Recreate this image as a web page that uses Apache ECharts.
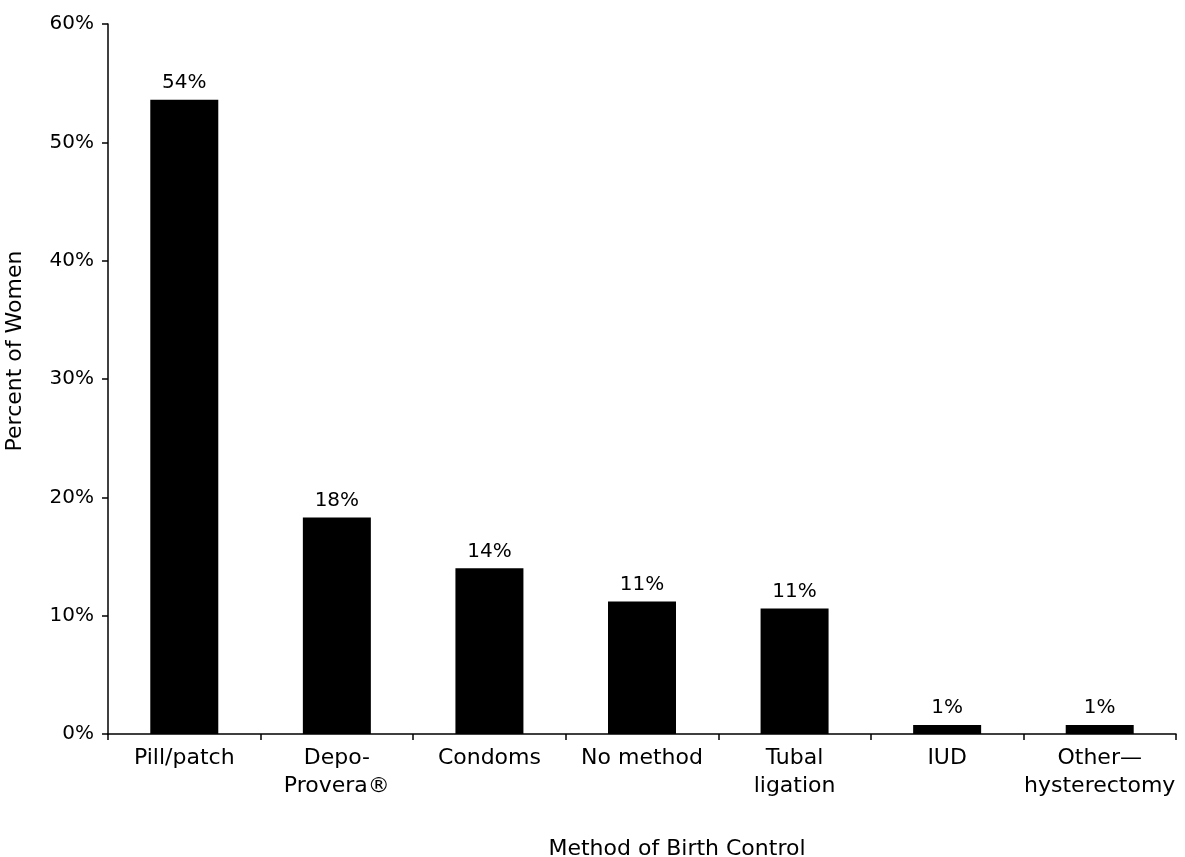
<!DOCTYPE html>
<html>
<head>
<meta charset="utf-8">
<script src="https://cdn.jsdelivr.net/npm/echarts@6/dist/echarts.min.js"></script>
<style>
  html, body { margin: 0; padding: 0; background: #fff; }
  #chart { width: 1185px; height: 857px; }
</style>
</head>
<body>
<div id="chart"></div>
<script>
var methods = ['Pill/patch', 'Depo-\nProvera\u00ae', 'Condoms', 'No method', 'Tubal\nligation', 'IUD', 'Other\u2014\nhysterectomy'];
var percents = [53.6, 18.3, 14.0, 11.2, 10.6, 0.76, 0.76];
var yTicks = [0, 10, 20, 30, 40, 50, 60];

var font = 'DejaVu Sans';

var option = {
    backgroundColor: '#fff',
    animation: false,
    grid: { left: 108, right: 9, top: 24, bottom: 123, outerBoundsMode: 'none' },
    xAxis: {
        type: 'category',
        data: methods,
        name: 'Method of Birth Control',
        nameLocation: 'middle',
        nameGap: 104,
        nameTextStyle: { color: '#000', fontFamily: font, fontSize: 22, padding: [0, 0, 0, 70] },
        axisLine: { lineStyle: { color: '#000', width: 1.5 } },
        axisTick: { show: true, length: 6, lineStyle: { color: '#000', width: 1.5 } },
        axisLabel: { color: '#000', fontFamily: font, fontSize: 22, lineHeight: 28, margin: 10, interval: 0 }
    },
    yAxis: {
        type: 'value',
        min: yTicks[0],
        max: yTicks[yTicks.length - 1],
        interval: 10,
        name: 'Percent of Women',
        nameLocation: 'middle',
        nameGap: 82,
        nameTextStyle: { color: '#000', fontFamily: font, fontSize: 22, padding: [0, 0, 0, 56] },
        splitLine: { show: false },
        axisLine: { show: true, lineStyle: { color: '#000', width: 1.5 } },
        axisTick: { show: true, length: 6, lineStyle: { color: '#000', width: 1.5 } },
        axisLabel: { color: '#000', fontFamily: font, fontSize: 20, margin: 14, formatter: '{value}%' }
    },
    series: [{
        type: 'bar',
        data: percents,
        barWidth: 68,
        itemStyle: { color: '#000' },
        label: {
            show: true,
            position: 'top',
            distance: 7,
            color: '#000',
            fontFamily: font,
            fontSize: 20,
            formatter: function (p) { return Math.round(p.value) + '%'; }
        }
    }]
};

var chart = echarts.init(document.getElementById('chart'));
chart.setOption(option);
</script>
</body>
</html>
